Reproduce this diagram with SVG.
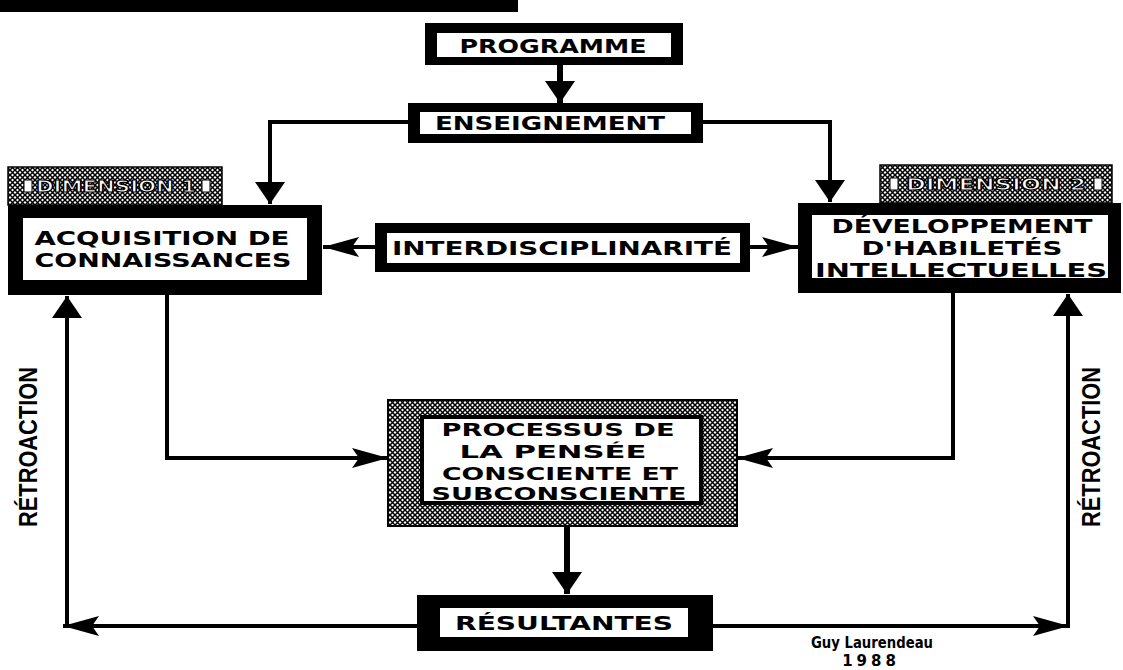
<svg xmlns="http://www.w3.org/2000/svg" width="1123" height="670" viewBox="0 0 1123 670">
  <defs>
    <style>
      .frame { fill: #000; }
      .inner { fill: #fff; }
      .lbl { font-family: "DejaVu Sans", "Liberation Sans", sans-serif; font-weight: bold; font-size: 20px; fill: #000; text-anchor: middle; }
      .small { font-size: 17px; }
      .tab { font-family: "DejaVu Sans", "Liberation Sans", sans-serif; font-weight: bold; font-size: 15px; fill: #fff; stroke: #000; stroke-width: 1.1; text-anchor: middle; }
      .side { font-family: "Liberation Sans", "DejaVu Sans", sans-serif; font-weight: bold; font-size: 25px; fill: #000; text-anchor: middle; }
      .sig { font-family: "DejaVu Sans", "Liberation Sans", sans-serif; font-weight: bold; font-size: 15px; fill: #000; text-anchor: middle; }
      .wire { fill: none; stroke: #000; stroke-width: 4; }
      .thick { stroke-width: 6; }
    </style>
    <!-- coarse woven screen used for shaded frames -->
    <pattern id="weave" width="5" height="5" patternUnits="userSpaceOnUse">
      <rect width="5" height="5" fill="#fff"/>
      <path d="M0,0 L5,5 M5,0 L0,5" stroke="#000" stroke-width="1.5"/>
    </pattern>
    <!-- solid triangular head for vertical drops -->
    <marker id="tri" markerUnits="userSpaceOnUse" markerWidth="22" markerHeight="30" viewBox="0 0 22 30" refX="22" refY="15" orient="auto">
      <path d="M0,0 L22,15 L0,30 Z" fill="#000"/>
    </marker>
    <!-- long dart head for horizontal runs -->
    <marker id="dart" markerUnits="userSpaceOnUse" markerWidth="36" markerHeight="20" viewBox="0 0 36 20" refX="36" refY="10" orient="auto">
      <path d="M0,0 L36,10 L0,20 L7,10 Z" fill="#000"/>
    </marker>
  </defs>

  <rect width="1123" height="670" fill="#fff"/>

  <!-- heavy rule at the top edge -->
  <rect x="0" y="0" width="518" height="12" fill="#000"/>

  <g id="connectors">
    <path class="wire thick" d="M560,65 L560,103" marker-end="url(#tri)"/>
    <path class="wire" d="M408,122 L270,122 L270,204" marker-end="url(#tri)"/>
    <path class="wire" d="M703,122 L830,122 L830,202" marker-end="url(#tri)"/>
    <path class="wire" d="M375,247 L323,247" marker-end="url(#dart)"/>
    <path class="wire" d="M750,247 L798,247" marker-end="url(#dart)"/>
    <path class="wire" d="M167,295 L167,458 L388,458" marker-end="url(#dart)"/>
    <path class="wire" d="M953,293 L953,458 L737,458" marker-end="url(#dart)"/>
    <path class="wire thick" d="M567,526 L567,594" marker-end="url(#tri)"/>
    <path class="wire" d="M417,626 L63,626" marker-end="url(#dart)"/>
    <path class="wire" d="M67,628 L67,296" marker-end="url(#tri)"/>
    <path class="wire" d="M713,626 L1069,626" marker-end="url(#dart)"/>
    <path class="wire" d="M1068,628 L1068,294" marker-end="url(#tri)"/>
  </g>

  <g id="programme">
    <rect class="frame" x="425" y="23" width="258" height="42"/>
    <rect class="inner" x="437" y="33" width="234" height="24"/>
    <text class="lbl" x="553" y="53" textLength="187" lengthAdjust="spacingAndGlyphs">PROGRAMME</text>
  </g>

  <g id="enseignement">
    <rect class="frame" x="408" y="103" width="295" height="40"/>
    <rect class="inner" x="420" y="112" width="271" height="22"/>
    <text class="lbl" x="550" y="130" textLength="230" lengthAdjust="spacingAndGlyphs">ENSEIGNEMENT</text>
  </g>

  <g id="dimension-1">
    <rect x="8" y="167" width="214" height="38" fill="url(#weave)" stroke="#000" stroke-width="1.5"/>
    <rect x="24" y="180" width="8" height="12" fill="#fff" stroke="#000"/>
    <rect x="202" y="180" width="8" height="12" fill="#fff" stroke="#000"/>
    <text class="tab" x="116" y="192" textLength="160" lengthAdjust="spacingAndGlyphs">DIMENSION 1</text>
  </g>

  <g id="acquisition">
    <rect class="frame" x="8" y="205" width="314" height="90"/>
    <rect class="inner" x="23" y="218" width="284" height="62"/>
    <text class="lbl" x="162" y="245" textLength="255" lengthAdjust="spacingAndGlyphs">ACQUISITION DE</text>
    <text class="lbl" x="163" y="267" textLength="257" lengthAdjust="spacingAndGlyphs">CONNAISSANCES</text>
  </g>

  <g id="interdisciplinarite">
    <rect class="frame" x="375" y="223" width="375" height="49"/>
    <rect class="inner" x="387" y="233" width="353" height="30"/>
    <text class="lbl" x="562" y="255" textLength="340" lengthAdjust="spacingAndGlyphs">INTERDISCIPLINARITÉ</text>
  </g>

  <g id="dimension-2">
    <rect x="880" y="165" width="232" height="38" fill="url(#weave)" stroke="#000" stroke-width="1.5"/>
    <rect x="890" y="178" width="8" height="12" fill="#fff" stroke="#000"/>
    <rect x="1094" y="178" width="8" height="12" fill="#fff" stroke="#000"/>
    <text class="tab" x="996" y="190" textLength="180" lengthAdjust="spacingAndGlyphs">DIMENSION 2</text>
  </g>

  <g id="developpement">
    <rect class="frame" x="798" y="203" width="323" height="90"/>
    <rect class="inner" x="812" y="215" width="296" height="63"/>
    <text class="lbl" x="962" y="233" textLength="261" lengthAdjust="spacingAndGlyphs">DÉVELOPPEMENT</text>
    <text class="lbl" x="962" y="255" textLength="201" lengthAdjust="spacingAndGlyphs">D'HABILETÉS</text>
    <text class="lbl" x="961" y="277" textLength="292" lengthAdjust="spacingAndGlyphs">INTELLECTUELLES</text>
  </g>

  <g id="processus">
    <rect x="388" y="400" width="349" height="126" fill="url(#weave)" stroke="#000" stroke-width="2"/>
    <rect class="frame" x="420" y="415" width="283" height="90"/>
    <rect class="inner" x="424" y="419" width="275" height="82"/>
    <text class="lbl small" x="558" y="436" textLength="233" lengthAdjust="spacingAndGlyphs">PROCESSUS DE</text>
    <text class="lbl small" x="553" y="458" textLength="187" lengthAdjust="spacingAndGlyphs">LA PENSÉE</text>
    <text class="lbl small" x="560" y="480" textLength="236" lengthAdjust="spacingAndGlyphs">CONSCIENTE ET</text>
    <text class="lbl small" x="559" y="500" textLength="255" lengthAdjust="spacingAndGlyphs">SUBCONSCIENTE</text>
  </g>

  <g id="resultantes">
    <rect class="frame" x="417" y="595" width="296" height="56"/>
    <rect class="inner" x="440" y="608" width="248" height="29"/>
    <text class="lbl" x="564" y="630" textLength="218" lengthAdjust="spacingAndGlyphs">RÉSULTANTES</text>
  </g>

  <g id="retroaction-left">
    <text class="side" transform="translate(37,447) rotate(-90)" textLength="160" lengthAdjust="spacingAndGlyphs">RÉTROACTION</text>
  </g>

  <g id="retroaction-right">
    <text class="side" transform="translate(1100,447) rotate(-90)" textLength="160" lengthAdjust="spacingAndGlyphs">RÉTROACTION</text>
  </g>

  <g id="signature">
    <text class="sig" x="872" y="648" textLength="122" lengthAdjust="spacingAndGlyphs">Guy Laurendeau</text>
    <text class="sig" x="871" y="666" letter-spacing="4">1988</text>
  </g>
</svg>
